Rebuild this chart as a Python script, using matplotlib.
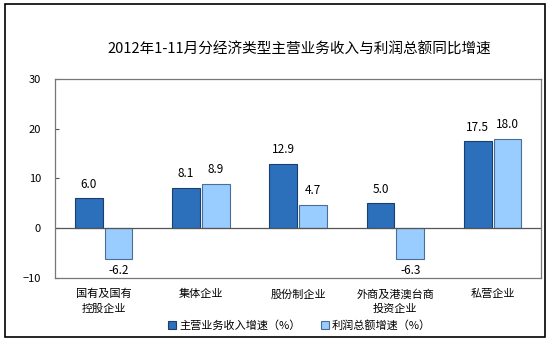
import matplotlib.pyplot as plt
import numpy as np
from matplotlib.patches import Rectangle

plt.rcParams['font.family'] = ['Noto Sans CJK SC', 'DejaVu Sans']

categories = ['国有及国有\n控股企业', '集体企业', '股份制企业', '外商及港澳台商\n投资企业', '私营企业']
revenue = [6.0, 8.1, 12.9, 5.0, 17.5]
profit = [-6.2, 8.9, 4.7, -6.3, 18.0]
series_names = ['主营业务收入增速（%）', '利润总额增速（%）']

fig = plt.figure(figsize=(5.5, 3.41), dpi=100)
# outer frame
fig.patches.append(Rectangle((0.009, 0.012), 0.982, 0.975, transform=fig.transFigure,
                             fill=False, edgecolor='black', linewidth=1.2))
ax = fig.add_axes([0.1, 0.185, 0.884, 0.584])

x = np.arange(len(categories))
w = 0.285
b1 = ax.bar(x - w / 2 - 0.01, revenue, w, color='#2c6fbb', edgecolor='#1a3e6e', linewidth=0.8,
            label=series_names[0])
b2 = ax.bar(x + w / 2 + 0.01, profit, w, color='#99ccff', edgecolor='#4a6f95', linewidth=0.8,
            label=series_names[1])

for bars, vals in ((b1, revenue), (b2, profit)):
    for r, v in zip(bars, vals):
        cx = r.get_x() + r.get_width() / 2
        if v >= 0:
            ax.text(cx, v + 1.5, f'{v:.1f}', ha='center', va='bottom', fontsize=8.5)
        else:
            ax.text(cx, v - 1.0, f'{v:.1f}', ha='center', va='top', fontsize=8.5)

ax.axhline(0, color='#555555', linewidth=0.9)
ax.set_xlim(-0.5, len(categories) - 0.5)
ax.set_ylim(-10, 30)
ax.set_yticks([-10, 0, 10, 20, 30])
ax.tick_params(axis='y', labelsize=8, length=3, direction='in', color='#555555', pad=10)
ax.set_xticks(x)
ax.set_xticklabels(categories, fontsize=8, linespacing=1.5)
ax.tick_params(axis='x', length=0, pad=8)
for s in ax.spines.values():
    s.set_color('#777777')
    s.set_linewidth(0.9)

fig.text(0.545, 0.855, '2012年1-11月分经济类型主营业务收入与利润总额同比增速',
         ha='center', va='center', fontsize=10.5)

fig.legend(handles=[b1, b2], loc='center', bbox_to_anchor=(0.545, 0.045), ncol=2,
           frameon=False, fontsize=8, handlelength=0.7, handleheight=0.7,
           handletextpad=0.3, columnspacing=1.8)

fig.savefig('out.png', dpi=100)
